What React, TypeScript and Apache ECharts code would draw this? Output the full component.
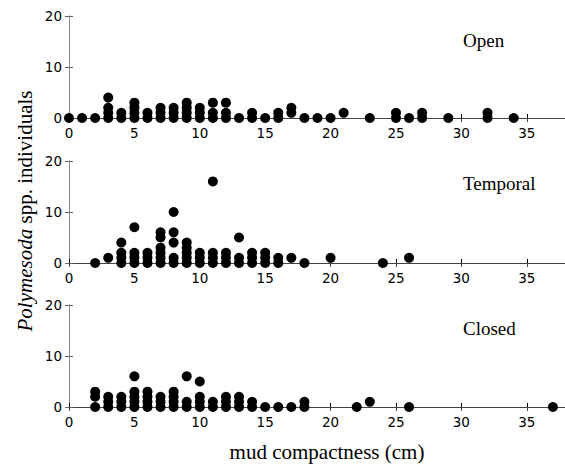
import React, { useEffect, useRef } from "react";
import * as echarts from "echarts";

// Each entry: [mud compactness (cm), counts of individuals observed at that compactness]
const openStacks: [number, number[]][] = [
  [0, [0]], [1, [0]], [2, [0]], [3, [0, 1, 2, 4]], [4, [0, 1]], [5, [0, 1, 2, 3]],
  [6, [0, 1]], [7, [0, 1, 2]], [8, [0, 1, 2]], [9, [0, 1, 2, 3]], [10, [0, 1, 2]],
  [11, [0, 1, 3]], [12, [0, 1, 3]], [13, [0]], [14, [0, 1]], [15, [0]], [16, [0, 1]],
  [17, [1, 2]], [18, [0]], [19, [0]], [20, [0]], [21, [1]], [23, [0]], [25, [0, 1]],
  [26, [0]], [27, [0, 1]], [29, [0]], [32, [0, 1]], [34, [0]],
];
const temporalStacks: [number, number[]][] = [
  [2, [0]], [3, [1]], [4, [0, 1, 2, 4]], [5, [0, 1, 2, 7]], [6, [0, 1, 2]],
  [7, [0, 1, 2, 3, 5, 6]], [8, [0, 1, 4, 6, 10]], [9, [0, 1, 2, 3, 4]], [10, [0, 1, 2]],
  [11, [0, 1, 2, 16]], [12, [0, 1, 2]], [13, [0, 1, 5]], [14, [0, 1, 2]], [15, [0, 1, 2]],
  [16, [0, 1]], [17, [1]], [18, [0]], [20, [1]], [24, [0]], [26, [1]],
];
const closedStacks: [number, number[]][] = [
  [2, [0, 2, 3]], [3, [0, 1, 2]], [4, [0, 1, 2]], [5, [0, 1, 2, 3, 6]], [6, [0, 1, 2, 3]],
  [7, [0, 1, 2]], [8, [0, 1, 2, 3]], [9, [0, 1, 6]], [10, [0, 1, 2, 5]], [11, [0, 1]],
  [12, [0, 1, 2]], [13, [0, 1, 2]], [14, [0, 1]], [15, [0]], [16, [0]], [17, [0]],
  [18, [0, 1]], [22, [0]], [23, [1]], [26, [0]], [37, [0]],
];
const panelNames = ["Open", "Temporal", "Closed"];
const xTickInterval = 5;
const xMax = 38;
const yTicks = [0, 10, 20];
const xTitle = "mud compactness (cm)";

const flatten = (stacks: [number, number[]][]) =>
  stacks.flatMap(([x, ys]) => ys.map((y) => [x, y]));

const panels = [openStacks, temporalStacks, closedStacks];
const gridTops = [16, 161, 305];
const labelYs = [40, 183.5, 328.5];

export default function App() {
  const ref = useRef<HTMLDivElement>(null);
  useEffect(() => {
    if (!ref.current) return;
    const chart = echarts.init(ref.current, null, { renderer: "svg" });
    const tickFont = { fontFamily: "DejaVu Sans", fontSize: 13.5, color: "#000" };
    const grids = gridTops.map((t) => ({ left: 69, width: 497, top: t, height: 104 }));
    const xAxes: any[] = [];
    const yAxes: any[] = [];
    panels.forEach((_, i) => {
      xAxes.push({
        type: "value", gridIndex: i, position: "bottom", min: 0, max: xMax, interval: xTickInterval,
        axisLine: { show: true, lineStyle: { color: "#000", width: 1 } },
        axisTick: { show: true, inside: true, length: 4, lineStyle: { color: "#000" } },
        axisLabel: { ...tickFont, margin: 6, showMaxLabel: false },
        splitLine: { show: false },
      });
      xAxes.push({
        type: "value", gridIndex: i, position: "top", min: 0, max: xMax, interval: xTickInterval,
        axisLine: { show: true, lineStyle: { color: "#444", width: 1 } },
        axisTick: { show: true, inside: true, length: 4, lineStyle: { color: "#444" } },
        axisLabel: { show: false },
        splitLine: { show: false },
      });
      yAxes.push({
        type: "value", gridIndex: i, position: "left", min: -0.4, max: 20,
        axisLine: { show: true, lineStyle: { color: "#888", width: 1 } },
        axisTick: { show: true, inside: true, length: 4, customValues: yTicks, lineStyle: { color: "#666" } },
        axisLabel: { ...tickFont, margin: 7, customValues: yTicks },
        splitLine: { show: false },
      });
      yAxes.push({
        type: "value", gridIndex: i, position: "right", min: -0.4, max: 20,
        axisLine: { show: true, lineStyle: { color: "#888", width: 1 } },
        axisTick: { show: true, inside: true, length: 4, customValues: yTicks, lineStyle: { color: "#666" } },
        axisLabel: { show: false },
        splitLine: { show: false },
      });
    });
    const series = panels.map((stacks, i) => ({
      type: "scatter",
      xAxisIndex: i * 2,
      yAxisIndex: i * 2,
      data: flatten(stacks),
      symbol: "circle",
      symbolSize: 10,
      itemStyle: { color: "#000", opacity: 1 },
      silent: true,
    }));
    const graphic: any[] = panelNames.map((name, i) => ({
      type: "text",
      x: 463,
      y: labelYs[i],
      style: {
        text: name, fontFamily: "Liberation Serif", fontSize: 19, fill: "#000",
        align: "left", verticalAlign: "middle",
      },
    }));
    graphic.push({
      type: "text",
      x: 327,
      y: 452,
      style: {
        text: xTitle, fontFamily: "Liberation Serif", fontSize: 21, fill: "#000",
        align: "center", verticalAlign: "middle",
      },
    });
    graphic.push({
      type: "text",
      x: 25,
      y: 211,
      rotation: Math.PI / 2,
      style: {
        text: "{i|Polymesoda} spp. individuals",
        fontFamily: "Liberation Serif", fontSize: 21, fill: "#000",
        align: "center", verticalAlign: "middle",
        rich: { i: { fontStyle: "italic", fontFamily: "Liberation Serif", fontSize: 21, fill: "#000" } },
      },
    });
    chart.setOption({
      animation: false,
      backgroundColor: "#fff",
      grid: grids,
      xAxis: xAxes,
      yAxis: yAxes,
      series,
      graphic,
    });
    return () => chart.dispose();
  }, []);
  return (
    <div
      ref={ref}
      style={{ position: "absolute", left: 0, top: 0, width: 567, height: 464, background: "#fff" }}
    />
  );
}
